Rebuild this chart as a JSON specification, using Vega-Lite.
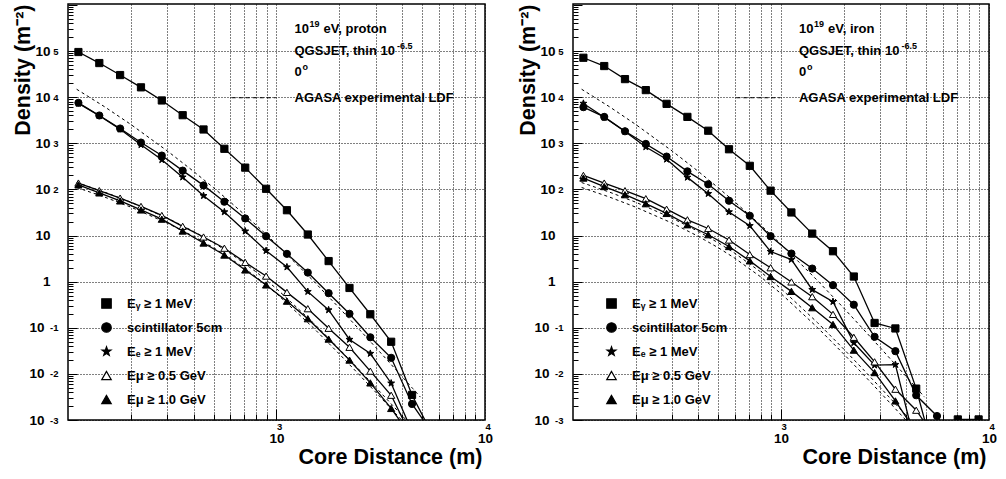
{
  "$schema": "https://vega.github.io/schema/vega-lite/v6.json",
  "background": "white",
  "padding": {"left": 11, "top": 3, "right": 0, "bottom": 0},
  "spacing": 22,
  "datasets": {
    "sim": [
      {"p":"proton","s":"g","r":112.2,"rho":95100},{"p":"proton","s":"g","r":141.3,"rho":54800},{"p":"proton","s":"g","r":177.8,"rho":30100},{"p":"proton","s":"g","r":223.9,"rho":16300},{"p":"proton","s":"g","r":281.8,"rho":8470},{"p":"proton","s":"g","r":354.8,"rho":4060},{"p":"proton","s":"g","r":446.7,"rho":1990},{"p":"proton","s":"g","r":562.3,"rho":759},{"p":"proton","s":"g","r":707.9,"rho":296},{"p":"proton","s":"g","r":891.3,"rho":103},{"p":"proton","s":"g","r":1122,"rho":35.3},{"p":"proton","s":"g","r":1413,"rho":10.5},{"p":"proton","s":"g","r":1778,"rho":2.79},{"p":"proton","s":"g","r":2239,"rho":0.729},{"p":"proton","s":"g","r":2818,"rho":0.196},{"p":"proton","s":"g","r":3548,"rho":0.0497},{"p":"proton","s":"g","r":4467,"rho":0.00349},{"p":"proton","s":"g","r":5623,"rho":0.00046},
      {"p":"proton","s":"sc","r":112.2,"rho":7520},{"p":"proton","s":"sc","r":141.3,"rho":4000},{"p":"proton","s":"sc","r":177.8,"rho":2090},{"p":"proton","s":"sc","r":223.9,"rho":1035},{"p":"proton","s":"sc","r":281.8,"rho":541},{"p":"proton","s":"sc","r":354.8,"rho":255},{"p":"proton","s":"sc","r":446.7,"rho":122},{"p":"proton","s":"sc","r":562.3,"rho":54.1},{"p":"proton","s":"sc","r":707.9,"rho":23.4},{"p":"proton","s":"sc","r":891.3,"rho":9.66},{"p":"proton","s":"sc","r":1122,"rho":4.0},{"p":"proton","s":"sc","r":1413,"rho":1.57},{"p":"proton","s":"sc","r":1778,"rho":0.562},{"p":"proton","s":"sc","r":2239,"rho":0.201},{"p":"proton","s":"sc","r":2818,"rho":0.0621},{"p":"proton","s":"sc","r":3548,"rho":0.0223},{"p":"proton","s":"sc","r":4467,"rho":0.00223},{"p":"proton","s":"sc","r":5623,"rho":0.0005},
      {"p":"proton","s":"e","r":112.2,"rho":7300},{"p":"proton","s":"e","r":141.3,"rho":3960},{"p":"proton","s":"e","r":177.8,"rho":2010},{"p":"proton","s":"e","r":223.9,"rho":927},{"p":"proton","s":"e","r":281.8,"rho":438},{"p":"proton","s":"e","r":354.8,"rho":184},{"p":"proton","s":"e","r":446.7,"rho":72.9},{"p":"proton","s":"e","r":562.3,"rho":32.4},{"p":"proton","s":"e","r":707.9,"rho":12.4},{"p":"proton","s":"e","r":891.3,"rho":4.68},{"p":"proton","s":"e","r":1122,"rho":2.07},{"p":"proton","s":"e","r":1413,"rho":0.607},{"p":"proton","s":"e","r":1778,"rho":0.243},{"p":"proton","s":"e","r":2239,"rho":0.0557},{"p":"proton","s":"e","r":2818,"rho":0.0276},{"p":"proton","s":"e","r":3548,"rho":0.00628},{"p":"proton","s":"e","r":4467,"rho":0.00056},
      {"p":"proton","s":"m05","r":112.2,"rho":137},{"p":"proton","s":"m05","r":141.3,"rho":93.8},{"p":"proton","s":"m05","r":177.8,"rho":64.7},{"p":"proton","s":"m05","r":223.9,"rho":42.7},{"p":"proton","s":"m05","r":281.8,"rho":27.2},{"p":"proton","s":"m05","r":354.8,"rho":15.8},{"p":"proton","s":"m05","r":446.7,"rho":9.27},{"p":"proton","s":"m05","r":562.3,"rho":5.3},{"p":"proton","s":"m05","r":707.9,"rho":2.61},{"p":"proton","s":"m05","r":891.3,"rho":1.32},{"p":"proton","s":"m05","r":1122,"rho":0.585},{"p":"proton","s":"m05","r":1413,"rho":0.259},{"p":"proton","s":"m05","r":1778,"rho":0.0975},{"p":"proton","s":"m05","r":2239,"rho":0.0377},{"p":"proton","s":"m05","r":2818,"rho":0.01146},{"p":"proton","s":"m05","r":3548,"rho":0.00344},{"p":"proton","s":"m05","r":4467,"rho":0.00041},
      {"p":"proton","s":"m10","r":112.2,"rho":125},{"p":"proton","s":"m10","r":141.3,"rho":83.9},{"p":"proton","s":"m10","r":177.8,"rho":56.2},{"p":"proton","s":"m10","r":223.9,"rho":35.8},{"p":"proton","s":"m10","r":281.8,"rho":22.6},{"p":"proton","s":"m10","r":354.8,"rho":12.5},{"p":"proton","s":"m10","r":446.7,"rho":6.87},{"p":"proton","s":"m10","r":562.3,"rho":3.77},{"p":"proton","s":"m10","r":707.9,"rho":1.79},{"p":"proton","s":"m10","r":891.3,"rho":0.847},{"p":"proton","s":"m10","r":1122,"rho":0.377},{"p":"proton","s":"m10","r":1413,"rho":0.157},{"p":"proton","s":"m10","r":1778,"rho":0.0568},{"p":"proton","s":"m10","r":2239,"rho":0.0199},{"p":"proton","s":"m10","r":2818,"rho":0.00637},{"p":"proton","s":"m10","r":3548,"rho":0.00178},{"p":"proton","s":"m10","r":4467,"rho":0.00041},
      {"p":"iron","s":"g","r":112.2,"rho":71400},{"p":"iron","s":"g","r":141.3,"rho":47200},{"p":"iron","s":"g","r":177.8,"rho":24600},{"p":"iron","s":"g","r":223.9,"rho":14200},{"p":"iron","s":"g","r":281.8,"rho":7150},{"p":"iron","s":"g","r":354.8,"rho":3730},{"p":"iron","s":"g","r":446.7,"rho":1870},{"p":"iron","s":"g","r":562.3,"rho":741},{"p":"iron","s":"g","r":707.9,"rho":324},{"p":"iron","s":"g","r":891.3,"rho":93.8},{"p":"iron","s":"g","r":1122,"rho":31.6},{"p":"iron","s":"g","r":1413,"rho":11.0},{"p":"iron","s":"g","r":1778,"rho":4.56},{"p":"iron","s":"g","r":2239,"rho":1.29},{"p":"iron","s":"g","r":2818,"rho":0.127},{"p":"iron","s":"g","r":3548,"rho":0.0966},{"p":"iron","s":"g","r":4467,"rho":0.00479},{"p":"iron","s":"g","r":5623,"rho":0.0001},{"p":"iron","s":"g","r":7079,"rho":0.00103},{"p":"iron","s":"g","r":8913,"rho":0.00103},
      {"p":"iron","s":"sc","r":112.2,"rho":6070},{"p":"iron","s":"sc","r":141.3,"rho":3730},{"p":"iron","s":"sc","r":177.8,"rho":1820},{"p":"iron","s":"sc","r":223.9,"rho":966},{"p":"iron","s":"sc","r":281.8,"rho":514},{"p":"iron","s":"sc","r":354.8,"rho":246},{"p":"iron","s":"sc","r":446.7,"rho":129},{"p":"iron","s":"sc","r":562.3,"rho":56.8},{"p":"iron","s":"sc","r":707.9,"rho":26.8},{"p":"iron","s":"sc","r":891.3,"rho":9.66},{"p":"iron","s":"sc","r":1122,"rho":4.06},{"p":"iron","s":"sc","r":1413,"rho":1.92},{"p":"iron","s":"sc","r":1778,"rho":0.839},{"p":"iron","s":"sc","r":2239,"rho":0.316},{"p":"iron","s":"sc","r":2818,"rho":0.0637},{"p":"iron","s":"sc","r":3548,"rho":0.0311},{"p":"iron","s":"sc","r":4467,"rho":0.00344},{"p":"iron","s":"sc","r":5623,"rho":0.00122},{"p":"iron","s":"sc","r":7079,"rho":0.000234},
      {"p":"iron","s":"e","r":112.2,"rho":7300},{"p":"iron","s":"e","r":141.3,"rho":3650},{"p":"iron","s":"e","r":177.8,"rho":1800},{"p":"iron","s":"e","r":223.9,"rho":832},{"p":"iron","s":"e","r":281.8,"rho":449},{"p":"iron","s":"e","r":354.8,"rho":182},{"p":"iron","s":"e","r":446.7,"rho":80.7},{"p":"iron","s":"e","r":562.3,"rho":32.4},{"p":"iron","s":"e","r":707.9,"rho":16.3},{"p":"iron","s":"e","r":891.3,"rho":4.49},{"p":"iron","s":"e","r":1122,"rho":3.01},{"p":"iron","s":"e","r":1413,"rho":0.67},{"p":"iron","s":"e","r":1778,"rho":0.367},{"p":"iron","s":"e","r":2239,"rho":0.0472},{"p":"iron","s":"e","r":2818,"rho":0.01545},{"p":"iron","s":"e","r":3548,"rho":0.01592},{"p":"iron","s":"e","r":4467,"rho":0.000245},
      {"p":"iron","s":"m05","r":112.2,"rho":201},{"p":"iron","s":"m05","r":141.3,"rho":137},{"p":"iron","s":"m05","r":177.8,"rho":93.8},{"p":"iron","s":"m05","r":223.9,"rho":62.8},{"p":"iron","s":"m05","r":281.8,"rho":37.2},{"p":"iron","s":"m05","r":354.8,"rho":21.9},{"p":"iron","s":"m05","r":446.7,"rho":14.2},{"p":"iron","s":"m05","r":562.3,"rho":7.98},{"p":"iron","s":"m05","r":707.9,"rho":3.86},{"p":"iron","s":"m05","r":891.3,"rho":2.0},{"p":"iron","s":"m05","r":1122,"rho":0.984},{"p":"iron","s":"m05","r":1413,"rho":0.472},{"p":"iron","s":"m05","r":1778,"rho":0.195},{"p":"iron","s":"m05","r":2239,"rho":0.0621},{"p":"iron","s":"m05","r":2818,"rho":0.01824},{"p":"iron","s":"m05","r":3548,"rho":0.00465},{"p":"iron","s":"m05","r":4467,"rho":0.00163},{"p":"iron","s":"m05","r":5623,"rho":0.00036},
      {"p":"iron","s":"m10","r":112.2,"rho":176},{"p":"iron","s":"m10","r":141.3,"rho":115},{"p":"iron","s":"m10","r":177.8,"rho":76.7},{"p":"iron","s":"m10","r":223.9,"rho":48.9},{"p":"iron","s":"m10","r":281.8,"rho":30.1},{"p":"iron","s":"m10","r":354.8,"rho":17.1},{"p":"iron","s":"m10","r":446.7,"rho":10.4},{"p":"iron","s":"m10","r":562.3,"rho":5.77},{"p":"iron","s":"m10","r":707.9,"rho":2.82},{"p":"iron","s":"m10","r":891.3,"rho":1.29},{"p":"iron","s":"m10","r":1122,"rho":0.615},{"p":"iron","s":"m10","r":1413,"rho":0.272},{"p":"iron","s":"m10","r":1778,"rho":0.118},{"p":"iron","s":"m10","r":2239,"rho":0.0327},{"p":"iron","s":"m10","r":2818,"rho":0.01067},{"p":"iron","s":"m10","r":3548,"rho":0.00259},{"p":"iron","s":"m10","r":4467,"rho":0.00054}
    ],
    "ldf": [
      {"s":"le","r":110,"rho":14840},{"s":"le","r":150,"rho":6157},{"s":"le","r":200,"rho":2564},{"s":"le","r":300,"rho":676.9},{"s":"le","r":400,"rho":245.9},{"s":"le","r":500,"rho":107.7},{"s":"le","r":600,"rho":53.4},{"s":"le","r":800,"rho":16.71},{"s":"le","r":1000,"rho":6.479},{"s":"le","r":1500,"rho":1.047},{"s":"le","r":2000,"rho":0.2687},{"s":"le","r":2500,"rho":0.09085},{"s":"le","r":3000,"rho":0.03692},{"s":"le","r":3500,"rho":0.01711},{"s":"le","r":4000,"rho":0.008748},{"s":"le","r":4500,"rho":0.004828},{"s":"le","r":4900,"rho":0.003134},
      {"s":"ma","r":110,"rho":140.8},{"s":"ma","r":150,"rho":87.0},{"s":"ma","r":200,"rho":52.86},{"s":"ma","r":300,"rho":23.69},{"s":"ma","r":400,"rho":12.29},{"s":"ma","r":500,"rho":6.927},{"s":"ma","r":600,"rho":4.115},{"s":"ma","r":800,"rho":1.613},{"s":"ma","r":1000,"rho":0.704},{"s":"ma","r":1500,"rho":0.1284},{"s":"ma","r":2000,"rho":0.03463},{"s":"ma","r":2500,"rho":0.01211},{"s":"ma","r":3000,"rho":0.005055},{"s":"ma","r":3500,"rho":0.002396},{"s":"ma","r":4000,"rho":0.001249},{"s":"ma","r":4500,"rho":0.000701},{"s":"ma","r":5000,"rho":0.000418},
      {"s":"mb","r":110,"rho":110.0},{"s":"mb","r":150,"rho":68.0},{"s":"mb","r":200,"rho":41.32},{"s":"mb","r":300,"rho":18.52},{"s":"mb","r":400,"rho":9.61},{"s":"mb","r":500,"rho":5.414},{"s":"mb","r":600,"rho":3.216},{"s":"mb","r":800,"rho":1.261},{"s":"mb","r":1000,"rho":0.5502},{"s":"mb","r":1500,"rho":0.1004},{"s":"mb","r":2000,"rho":0.02707},{"s":"mb","r":2500,"rho":0.009466},{"s":"mb","r":3000,"rho":0.003951},{"s":"mb","r":3500,"rho":0.001873},{"s":"mb","r":4000,"rho":0.000976},{"s":"mb","r":4500,"rho":0.000548},{"s":"mb","r":5000,"rho":0.000327}
    ],
    "one": [{}]
  },
  "resolve": {
    "scale": {"x": "independent", "y": "independent", "shape": "independent", "fill": "independent", "stroke": "independent"},
    "legend": {"shape": "independent", "fill": "independent", "stroke": "independent"}
  },
  "hconcat": [
    {
      "width": 417, "height": 416,
      "resolve": {"axis": {"x": "independent", "y": "independent"}},
      "layer": [
        {
          "data": {"name": "sim"}, "transform": [{"filter": "datum.p == 'proton'"}],
          "mark": {"type": "line", "color": "black", "strokeWidth": 1.3, "clip": true},
          "encoding": {
            "x": {"field": "r", "type": "quantitative", "scale": {"type": "log", "domain": [100, 10000], "nice": false},
                  "axis": {"orient": "bottom", "values": [1000, 10000], "labelExpr": "'10'", "ticks": false, "grid": true, "labelPadding": 11, "labelDx": -2, "labelFlush": false, "title": "Core Distance (m)", "titleX": 414, "titleY": 43, "titleAlign": "right", "titleBaseline": "alphabetic"}},
            "y": {"field": "rho", "type": "quantitative", "scale": {"type": "log", "domain": [0.001, 1045000], "nice": false},
                  "axis": {"orient": "left", "values": [0.001, 0.01, 0.1, 1, 10, 100, 1000, 10000, 100000], "labels": false, "ticks": false, "grid": true, "title": "Density  (m⁻²)", "titleX": -39, "titleY": 0, "titleAlign": "right", "titleBaseline": "alphabetic", "titleAngle": 270}},
            "detail": {"field": "s"}
          }
        },
        {
          "data": {"name": "ldf"},
          "mark": {"type": "line", "color": "black", "strokeWidth": 1, "strokeDash": [3, 3], "clip": true},
          "encoding": {
            "x": {"field": "r", "type": "quantitative", "axis": {"orient": "bottom", "values": [200,300,400,500,600,700,800,900,2000,3000,4000,5000,6000,7000,8000,9000], "labels": false, "ticks": true, "tickSize": -6, "grid": true, "title": null}},
            "y": {"field": "rho", "type": "quantitative", "axis": {"orient": "left", "values": [0.002,0.003,0.004,0.005,0.006,0.007,0.008,0.009,0.02,0.03,0.04,0.05,0.06,0.07,0.08,0.09,0.2,0.3,0.4,0.5,0.6,0.7,0.8,0.9,2,3,4,5,6,7,8,9,20,30,40,50,60,70,80,90,200,300,400,500,600,700,800,900,2000,3000,4000,5000,6000,7000,8000,9000,20000,30000,40000,50000,60000,70000,80000,90000,200000,300000,400000,500000,600000,700000,800000,900000], "labels": false, "ticks": true, "tickSize": -5, "grid": false, "title": null}},
            "detail": {"field": "s"}
          }
        },
        {
          "data": {"name": "sim"}, "transform": [{"filter": "datum.p == 'proton'"}],
          "mark": {"type": "point", "filled": true, "strokeWidth": 1, "opacity": 1, "size": 52, "clip": true},
          "encoding": {
            "x": {"field": "r", "type": "quantitative", "axis": {"orient": "bottom", "values": [1000, 10000], "labelExpr": "datum.value < 5000 ? '3' : '4'", "labelAlign": "left", "labelDx": 9, "labelPadding": 1, "labelFontSize": 9.5, "labelFlush": false, "ticks": false, "grid": false, "title": null}},
            "y": {"field": "rho", "type": "quantitative", "axis": {"orient": "left", "values": [0.001, 0.01, 0.1, 1, 10, 100, 1000, 10000, 100000], "labelExpr": "datum.value < 0.002 ? '-3' : datum.value < 0.02 ? '-2' : datum.value < 0.2 ? '-1' : datum.value < 20 ? '' : datum.value < 200 ? '2' : datum.value < 2000 ? '3' : datum.value < 20000 ? '4' : '5'", "labelAlign": "right", "labelPadding": 10, "labelDy": -6, "labelFontSize": 9.5, "ticks": false, "grid": false, "title": null}},
            "shape": {"field": "s", "type": "nominal",
              "scale": {"domain": ["g", "sc", "e", "m05", "m10"], "range": ["square", "circle", "M0,-1L0.235,-0.324L0.951,-0.309L0.38,0.124L0.588,0.809L0,0.4L-0.588,0.809L-0.38,0.124L-0.951,-0.309L-0.235,-0.324Z", "triangle-up", "triangle-up"]},
              "legend": {"orient": "none", "legendX": 32, "legendY": 293, "title": null, "padding": 0, "symbolSize": 90, "symbolStrokeWidth": 1.2, "rowPadding": 9, "labelOffset": 14, "labelFont": "Liberation Sans", "labelFontWeight": "bold", "labelFontSize": 13, "labelColor": "black", "labelExpr": "datum.label == 'g' ? 'Eᵧ ≥ 1 MeV' : datum.label == 'sc' ? 'scintillator 5cm' : datum.label == 'e' ? 'Eₑ ≥ 1 MeV' : datum.label == 'm05' ? 'Eμ ≥ 0.5 GeV' : 'Eμ ≥ 1.0 GeV'"}},
            "fill": {"field": "s", "type": "nominal",
              "scale": {"domain": ["g", "sc", "e", "m05", "m10"], "range": ["black", "black", "black", "white", "black"]},
              "legend": {"orient": "none", "legendX": 32, "legendY": 293, "title": null, "padding": 0, "symbolSize": 90, "symbolStrokeWidth": 1.2, "rowPadding": 9, "labelOffset": 14, "labelFont": "Liberation Sans", "labelFontWeight": "bold", "labelFontSize": 13, "labelColor": "black", "labelExpr": "datum.label == 'g' ? 'Eᵧ ≥ 1 MeV' : datum.label == 'sc' ? 'scintillator 5cm' : datum.label == 'e' ? 'Eₑ ≥ 1 MeV' : datum.label == 'm05' ? 'Eμ ≥ 0.5 GeV' : 'Eμ ≥ 1.0 GeV'"}},
            "stroke": {"field": "s", "type": "nominal",
              "scale": {"domain": ["g", "sc", "e", "m05", "m10"], "range": ["black", "black", "black", "black", "black"]},
              "legend": {"orient": "none", "legendX": 32, "legendY": 293, "title": null, "padding": 0, "symbolSize": 90, "symbolStrokeWidth": 1.2, "rowPadding": 9, "labelOffset": 14, "labelFont": "Liberation Sans", "labelFontWeight": "bold", "labelFontSize": 13, "labelColor": "black", "labelExpr": "datum.label == 'g' ? 'Eᵧ ≥ 1 MeV' : datum.label == 'sc' ? 'scintillator 5cm' : datum.label == 'e' ? 'Eₑ ≥ 1 MeV' : datum.label == 'm05' ? 'Eμ ≥ 0.5 GeV' : 'Eμ ≥ 1.0 GeV'"}}
          }
        },
        {"data": {"name": "one"}, "mark": {"type": "rule", "strokeDash": [4, 3], "color": "black", "strokeWidth": 1},
         "encoding": {"x": {"datum": 610, "axis": null}, "x2": {"datum": 990}, "y": {"datum": 9700, "axis": null}}},
        {"data": {"name": "one"}, "mark": {"type": "text"}, "encoding": {"x": {"datum": 1220, "axis": null},
          "y": {"datum": 296000, "axis": {"orient": "left", "values": [1, 10, 100, 1000, 10000, 100000], "labelExpr": "datum.value < 2 ? '1' : '10'", "labelPadding": 18, "labelDy": 1, "ticks": false, "grid": false, "title": null}},
          "text": {"value": "10"}}},
        {"data": {"name": "one"}, "mark": {"type": "text", "fontSize": 9, "dx": 15, "dy": -5}, "encoding": {"x": {"datum": 1220, "axis": null}, "y": {"datum": 296000, "axis": null}, "text": {"value": "19"}}},
        {"data": {"name": "one"}, "mark": {"type": "text", "dx": 29}, "encoding": {"x": {"datum": 1220, "axis": null}, "y": {"datum": 296000, "axis": null}, "text": {"value": "eV, proton"}}},
        {"data": {"name": "one"}, "mark": {"type": "text"}, "encoding": {"x": {"datum": 1220, "axis": null},
          "y": {"datum": 100000, "axis": {"orient": "left", "values": [0.001, 0.01, 0.1], "labelExpr": "'10'", "labelPadding": 24, "labelDy": 1, "ticks": false, "grid": false, "title": null}},
          "text": {"value": "QGSJET, thin 10"}}},
        {"data": {"name": "one"}, "mark": {"type": "text", "fontSize": 9, "dx": 102.5, "dy": -5}, "encoding": {"x": {"datum": 1220, "axis": null}, "y": {"datum": 100000, "axis": null}, "text": {"value": "-6.5"}}},
        {"data": {"name": "one"}, "mark": {"type": "text"}, "encoding": {"x": {"datum": 1220, "axis": null}, "y": {"datum": 35000, "axis": null}, "text": {"value": "0"}}},
        {"data": {"name": "one"}, "mark": {"type": "text", "fontSize": 9, "dx": 8, "dy": -5}, "encoding": {"x": {"datum": 1220, "axis": null}, "y": {"datum": 35000, "axis": null}, "text": {"value": "o"}}},
        {"data": {"name": "one"}, "mark": {"type": "text"}, "encoding": {
          "x": {"datum": 1220, "axis": {"orient": "bottom", "values": [1000], "labels": false, "ticks": true, "tickSize": -11, "grid": false, "title": null}},
          "y": {"datum": 9700, "axis": {"orient": "left", "values": [0.001,0.01,0.1,1,10,100,1000,10000,100000,1000000], "labels": false, "ticks": true, "tickSize": -9, "grid": false, "title": null}},
          "text": {"value": "AGASA experimental LDF"}}}
      ]
    },
    {
      "width": 416, "height": 416,
      "resolve": {"axis": {"x": "independent", "y": "independent"}},
      "layer": [
        {
          "data": {"name": "sim"}, "transform": [{"filter": "datum.p == 'iron'"}],
          "mark": {"type": "line", "color": "black", "strokeWidth": 1.3, "clip": true},
          "encoding": {
            "x": {"field": "r", "type": "quantitative", "scale": {"type": "log", "domain": [100, 10000], "nice": false},
                  "axis": {"orient": "bottom", "values": [1000, 10000], "labelExpr": "'10'", "ticks": false, "grid": true, "labelPadding": 11, "labelDx": -2, "labelFlush": false, "title": "Core Distance (m)", "titleX": 413, "titleY": 43, "titleAlign": "right", "titleBaseline": "alphabetic"}},
            "y": {"field": "rho", "type": "quantitative", "scale": {"type": "log", "domain": [0.001, 1045000], "nice": false},
                  "axis": {"orient": "left", "values": [0.001, 0.01, 0.1, 1, 10, 100, 1000, 10000, 100000], "labels": false, "ticks": false, "grid": true, "title": "Density  (m⁻²)", "titleX": -39, "titleY": 0, "titleAlign": "right", "titleBaseline": "alphabetic", "titleAngle": 270}},
            "detail": {"field": "s"}
          }
        },
        {
          "data": {"name": "ldf"},
          "mark": {"type": "line", "color": "black", "strokeWidth": 1, "strokeDash": [3, 3], "clip": true},
          "encoding": {
            "x": {"field": "r", "type": "quantitative", "axis": {"orient": "bottom", "values": [200,300,400,500,600,700,800,900,2000,3000,4000,5000,6000,7000,8000,9000], "labels": false, "ticks": true, "tickSize": -6, "grid": true, "title": null}},
            "y": {"field": "rho", "type": "quantitative", "axis": {"orient": "left", "values": [0.002,0.003,0.004,0.005,0.006,0.007,0.008,0.009,0.02,0.03,0.04,0.05,0.06,0.07,0.08,0.09,0.2,0.3,0.4,0.5,0.6,0.7,0.8,0.9,2,3,4,5,6,7,8,9,20,30,40,50,60,70,80,90,200,300,400,500,600,700,800,900,2000,3000,4000,5000,6000,7000,8000,9000,20000,30000,40000,50000,60000,70000,80000,90000,200000,300000,400000,500000,600000,700000,800000,900000], "labels": false, "ticks": true, "tickSize": -5, "grid": false, "title": null}},
            "detail": {"field": "s"}
          }
        },
        {
          "data": {"name": "sim"}, "transform": [{"filter": "datum.p == 'iron'"}],
          "mark": {"type": "point", "filled": true, "strokeWidth": 1, "opacity": 1, "size": 52, "clip": true},
          "encoding": {
            "x": {"field": "r", "type": "quantitative", "axis": {"orient": "bottom", "values": [1000, 10000], "labelExpr": "datum.value < 5000 ? '3' : '4'", "labelAlign": "left", "labelDx": 9, "labelPadding": 1, "labelFontSize": 9.5, "labelFlush": false, "ticks": false, "grid": false, "title": null}},
            "y": {"field": "rho", "type": "quantitative", "axis": {"orient": "left", "values": [0.001, 0.01, 0.1, 1, 10, 100, 1000, 10000, 100000], "labelExpr": "datum.value < 0.002 ? '-3' : datum.value < 0.02 ? '-2' : datum.value < 0.2 ? '-1' : datum.value < 20 ? '' : datum.value < 200 ? '2' : datum.value < 2000 ? '3' : datum.value < 20000 ? '4' : '5'", "labelAlign": "right", "labelPadding": 10, "labelDy": -6, "labelFontSize": 9.5, "ticks": false, "grid": false, "title": null}},
            "shape": {"field": "s", "type": "nominal",
              "scale": {"domain": ["g", "sc", "e", "m05", "m10"], "range": ["square", "circle", "M0,-1L0.235,-0.324L0.951,-0.309L0.38,0.124L0.588,0.809L0,0.4L-0.588,0.809L-0.38,0.124L-0.951,-0.309L-0.235,-0.324Z", "triangle-up", "triangle-up"]},
              "legend": {"orient": "none", "legendX": 32, "legendY": 293, "title": null, "padding": 0, "symbolSize": 90, "symbolStrokeWidth": 1.2, "rowPadding": 9, "labelOffset": 14, "labelFont": "Liberation Sans", "labelFontWeight": "bold", "labelFontSize": 13, "labelColor": "black", "labelExpr": "datum.label == 'g' ? 'Eᵧ ≥ 1 MeV' : datum.label == 'sc' ? 'scintillator 5cm' : datum.label == 'e' ? 'Eₑ ≥ 1 MeV' : datum.label == 'm05' ? 'Eμ ≥ 0.5 GeV' : 'Eμ ≥ 1.0 GeV'"}},
            "fill": {"field": "s", "type": "nominal",
              "scale": {"domain": ["g", "sc", "e", "m05", "m10"], "range": ["black", "black", "black", "white", "black"]},
              "legend": {"orient": "none", "legendX": 32, "legendY": 293, "title": null, "padding": 0, "symbolSize": 90, "symbolStrokeWidth": 1.2, "rowPadding": 9, "labelOffset": 14, "labelFont": "Liberation Sans", "labelFontWeight": "bold", "labelFontSize": 13, "labelColor": "black", "labelExpr": "datum.label == 'g' ? 'Eᵧ ≥ 1 MeV' : datum.label == 'sc' ? 'scintillator 5cm' : datum.label == 'e' ? 'Eₑ ≥ 1 MeV' : datum.label == 'm05' ? 'Eμ ≥ 0.5 GeV' : 'Eμ ≥ 1.0 GeV'"}},
            "stroke": {"field": "s", "type": "nominal",
              "scale": {"domain": ["g", "sc", "e", "m05", "m10"], "range": ["black", "black", "black", "black", "black"]},
              "legend": {"orient": "none", "legendX": 32, "legendY": 293, "title": null, "padding": 0, "symbolSize": 90, "symbolStrokeWidth": 1.2, "rowPadding": 9, "labelOffset": 14, "labelFont": "Liberation Sans", "labelFontWeight": "bold", "labelFontSize": 13, "labelColor": "black", "labelExpr": "datum.label == 'g' ? 'Eᵧ ≥ 1 MeV' : datum.label == 'sc' ? 'scintillator 5cm' : datum.label == 'e' ? 'Eₑ ≥ 1 MeV' : datum.label == 'm05' ? 'Eμ ≥ 0.5 GeV' : 'Eμ ≥ 1.0 GeV'"}}
          }
        },
        {"data": {"name": "one"}, "mark": {"type": "rule", "strokeDash": [4, 3], "color": "black", "strokeWidth": 1},
         "encoding": {"x": {"datum": 610, "axis": null}, "x2": {"datum": 990}, "y": {"datum": 9700, "axis": null}}},
        {"data": {"name": "one"}, "mark": {"type": "text"}, "encoding": {"x": {"datum": 1220, "axis": null},
          "y": {"datum": 296000, "axis": {"orient": "left", "values": [1, 10, 100, 1000, 10000, 100000], "labelExpr": "datum.value < 2 ? '1' : '10'", "labelPadding": 18, "labelDy": 1, "ticks": false, "grid": false, "title": null}},
          "text": {"value": "10"}}},
        {"data": {"name": "one"}, "mark": {"type": "text", "fontSize": 9, "dx": 15, "dy": -5}, "encoding": {"x": {"datum": 1220, "axis": null}, "y": {"datum": 296000, "axis": null}, "text": {"value": "19"}}},
        {"data": {"name": "one"}, "mark": {"type": "text", "dx": 29}, "encoding": {"x": {"datum": 1220, "axis": null}, "y": {"datum": 296000, "axis": null}, "text": {"value": "eV, iron"}}},
        {"data": {"name": "one"}, "mark": {"type": "text"}, "encoding": {"x": {"datum": 1220, "axis": null},
          "y": {"datum": 100000, "axis": {"orient": "left", "values": [0.001, 0.01, 0.1], "labelExpr": "'10'", "labelPadding": 24, "labelDy": 1, "ticks": false, "grid": false, "title": null}},
          "text": {"value": "QGSJET, thin 10"}}},
        {"data": {"name": "one"}, "mark": {"type": "text", "fontSize": 9, "dx": 102.5, "dy": -5}, "encoding": {"x": {"datum": 1220, "axis": null}, "y": {"datum": 100000, "axis": null}, "text": {"value": "-6.5"}}},
        {"data": {"name": "one"}, "mark": {"type": "text"}, "encoding": {"x": {"datum": 1220, "axis": null}, "y": {"datum": 35000, "axis": null}, "text": {"value": "0"}}},
        {"data": {"name": "one"}, "mark": {"type": "text", "fontSize": 9, "dx": 8, "dy": -5}, "encoding": {"x": {"datum": 1220, "axis": null}, "y": {"datum": 35000, "axis": null}, "text": {"value": "o"}}},
        {"data": {"name": "one"}, "mark": {"type": "text"}, "encoding": {
          "x": {"datum": 1220, "axis": {"orient": "bottom", "values": [1000], "labels": false, "ticks": true, "tickSize": -11, "grid": false, "title": null}},
          "y": {"datum": 9700, "axis": {"orient": "left", "values": [0.001,0.01,0.1,1,10,100,1000,10000,100000,1000000], "labels": false, "ticks": true, "tickSize": -9, "grid": false, "title": null}},
          "text": {"value": "AGASA experimental LDF"}}}
      ]
    }
  ],
  "config": {
    "view": {"stroke": "black", "strokeWidth": 1.5},
    "font": "Liberation Sans",
    "axis": {"labelFont": "Liberation Sans", "labelFontWeight": "bold", "labelFontSize": 13.5, "labelColor": "black", "titleFont": "Liberation Sans", "titleFontWeight": "bold", "titleFontSize": 21.5, "titleColor": "black", "domain": false, "tickColor": "black", "tickWidth": 1, "gridColor": "black", "gridDash": [1, 2], "gridWidth": 1, "gridOpacity": 1},
    "text": {"font": "Liberation Sans", "fontWeight": "bold", "fontSize": 13, "color": "black", "align": "left", "baseline": "middle"}
  }
}
